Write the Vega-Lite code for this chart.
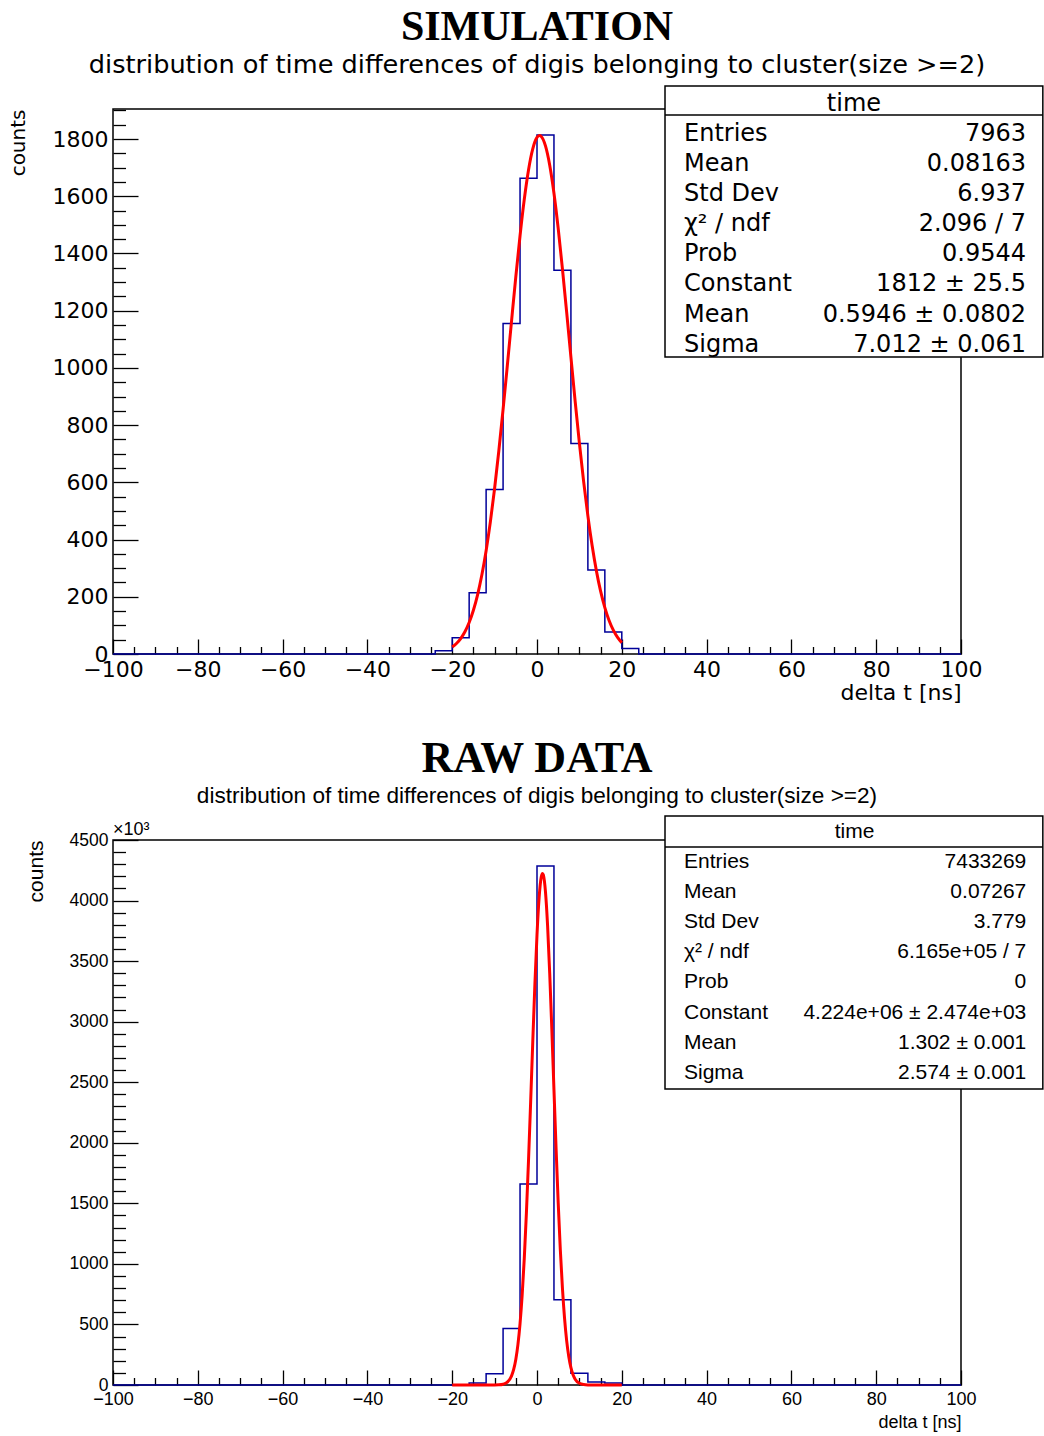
{
  "$schema": "https://vega.github.io/schema/vega-lite/v6.json",
  "background": "white",
  "padding": {"left": 7, "top": 4, "right": 0, "bottom": 0},
  "spacing": 31,
  "config": {
    "view": {"stroke": "black", "strokeWidth": 1.5},
    "axis": {"grid": false, "domain": false, "tickColor": "black", "tickWidth": 1.3, "labelColor": "black", "titleColor": "black", "labelFlush": false, "labelOverlap": false, "titleFontWeight": "normal"}
  },
  "vconcat": [
    {
      "width": 848,
      "height": 545,
      "title": {"text": "SIMULATION", "subtitle": "distribution of time differences of digis belonging to cluster(size >=2)", "font": "Liberation Serif", "fontSize": 42, "fontWeight": "bold", "color": "black", "subtitleFont": "DejaVu Sans", "subtitleFontSize": 25.6, "subtitleColor": "black", "anchor": "middle", "frame": "group", "offset": 6, "subtitlePadding": 4},
      "layer": [
        {
          "layer": [
            {
              "data": {"values": [
                {"lo": -100, "n": 0}, {"lo": -24, "n": 11}, {"lo": -20, "n": 57}, {"lo": -16, "n": 214}, {"lo": -12, "n": 575}, {"lo": -8, "n": 1155}, {"lo": -4, "n": 1663}, {"lo": 0, "n": 1814}, {"lo": 4, "n": 1341}, {"lo": 8, "n": 736}, {"lo": 12, "n": 294}, {"lo": 16, "n": 77}, {"lo": 20, "n": 19}, {"lo": 24, "n": 0}, {"lo": 100, "n": 0}
              ]},
              "mark": {"type": "line", "interpolate": "step-after", "color": "#000099", "strokeWidth": 1.5},
              "encoding": {
                "x": {"field": "lo", "type": "quantitative", "scale": {"domain": [-100, 100], "nice": false, "zero": false},
                      "axis": {"orient": "bottom", "values": [-100, -80, -60, -40, -20, 0, 20, 40, 60, 80, 100], "format": "d", "tickSize": -15, "labelPadding": 20, "labelFont": "DejaVu Sans", "labelFontSize": 22, "title": "delta t [ns]", "titleFont": "DejaVu Sans", "titleFontSize": 22, "titleAnchor": "end", "titlePadding": 2}},
                "y": {"field": "n", "type": "quantitative", "scale": {"domain": [0, 1905], "nice": false, "zero": false},
                      "axis": {"orient": "left", "values": [0, 200, 400, 600, 800, 1000, 1200, 1400, 1600, 1800], "format": "d", "tickSize": -25, "labelPadding": 30, "labelFont": "DejaVu Sans", "labelFontSize": 22, "title": "counts", "titleFont": "DejaVu Sans", "titleFontSize": 20, "titleAnchor": "end", "titlePadding": 24}}
              }
            },
            {
              "data": {"values": [
                {"x": -20, "f": 24.3}, {"x": -19, "f": 36.5}, {"x": -18, "f": 53.9}, {"x": -17, "f": 77.8}, {"x": -16, "f": 110.1}, {"x": -15, "f": 152.8}, {"x": -14, "f": 207.7}, {"x": -13, "f": 276.7}, {"x": -12, "f": 361.1}, {"x": -11, "f": 461.8}, {"x": -10, "f": 578.6}, {"x": -9, "f": 710.5}, {"x": -8, "f": 854.9}, {"x": -7, "f": 1007.8}, {"x": -6, "f": 1164.4}, {"x": -5, "f": 1318.1}, {"x": -4, "f": 1461.9}, {"x": -3, "f": 1588.9}, {"x": -2, "f": 1692.1}, {"x": -1, "f": 1765.7}, {"x": 0, "f": 1805.5}, {"x": 0.5946, "f": 1812}, {"x": 1, "f": 1809.0}, {"x": 2, "f": 1776.0}, {"x": 3, "f": 1708.5}, {"x": 4, "f": 1610.4}, {"x": 5, "f": 1487.5}, {"x": 6, "f": 1346.2}, {"x": 7, "f": 1193.8}, {"x": 8, "f": 1037.4}, {"x": 9, "f": 883.4}, {"x": 10, "f": 737.0}, {"x": 11, "f": 602.5}, {"x": 12, "f": 482.7}, {"x": 13, "f": 378.9}, {"x": 14, "f": 291.5}, {"x": 15, "f": 219.6}, {"x": 16, "f": 162.2}, {"x": 17, "f": 117.3}, {"x": 18, "f": 83.2}, {"x": 19, "f": 57.8}, {"x": 20, "f": 39.4}
              ]},
              "mark": {"type": "line", "color": "#ff0000", "strokeWidth": 3, "interpolate": "monotone"},
              "encoding": {
                "x": {"field": "x", "type": "quantitative", "axis": {"orient": "bottom", "values": [-95, -90, -85, -75, -70, -65, -55, -50, -45, -35, -30, -25, -15, -10, -5, 5, 10, 15, 25, 30, 35, 45, 50, 55, 65, 70, 75, 85, 90, 95], "tickSize": -7.5, "labels": false, "title": null}},
                "y": {"field": "f", "type": "quantitative", "axis": {"orient": "left", "values": [50, 100, 150, 250, 300, 350, 450, 500, 550, 650, 700, 750, 850, 900, 950, 1050, 1100, 1150, 1250, 1300, 1350, 1450, 1500, 1550, 1650, 1700, 1750, 1850, 1900], "tickSize": -12.5, "labels": false, "title": null}}
              }
            }
          ],
          "resolve": {"axis": {"x": "independent", "y": "independent"}}
        },
        {
          "data": {"values": [
            {"r": 0, "label": "time", "value": ""},
            {"r": 1, "label": "Entries", "value": "7963"},
            {"r": 2, "label": "Mean", "value": "0.08163"},
            {"r": 3, "label": "Std Dev", "value": "6.937"},
            {"r": 4, "label": "χ² / ndf", "value": "2.096 / 7"},
            {"r": 5, "label": "Prob", "value": "0.9544"},
            {"r": 6, "label": "Constant", "value": "1812 ± 25.5"},
            {"r": 7, "label": "Mean", "value": "0.5946 ± 0.0802"},
            {"r": 8, "label": "Sigma", "value": "7.012 ± 0.061"}
          ]},
          "layer": [
            {
              "data": {"values": [{}]},
              "mark": {"type": "rect", "fill": "white", "stroke": "black", "strokeWidth": 1.5},
              "encoding": {
                "x": {"datum": 30.19, "type": "quantitative", "scale": {"domain": [-100, 100], "nice": false, "zero": false}, "axis": null},
                "x2": {"datum": 119.3},
                "y": {"datum": -0.594, "type": "quantitative", "scale": {"domain": [0.17, 18.276], "reverse": true, "nice": false, "zero": false}, "axis": null},
                "y2": {"datum": 8.409}
              }
            },
            {
              "data": {"values": [{}]},
              "mark": {"type": "rule", "color": "black", "strokeWidth": 1.5},
              "encoding": {
                "x": {"datum": 30.19, "type": "quantitative"},
                "x2": {"datum": 119.3},
                "y": {"datum": 0.369, "type": "quantitative"}
              }
            },
            {
              "transform": [{"filter": "datum.r == 0"}],
              "mark": {"type": "text", "align": "center", "baseline": "middle", "font": "DejaVu Sans", "fontSize": 24, "color": "black"},
              "encoding": {"x": {"datum": 74.76, "type": "quantitative"}, "y": {"field": "r", "type": "quantitative"}, "text": {"field": "label"}}
            },
            {
              "transform": [{"filter": "datum.r > 0"}],
              "mark": {"type": "text", "align": "left", "baseline": "middle", "font": "DejaVu Sans", "fontSize": 24, "color": "black"},
              "encoding": {"x": {"datum": 34.67, "type": "quantitative"}, "y": {"field": "r", "type": "quantitative"}, "text": {"field": "label"}}
            },
            {
              "transform": [{"filter": "datum.r > 0"}],
              "mark": {"type": "text", "align": "right", "baseline": "middle", "font": "DejaVu Sans", "fontSize": 24, "color": "black"},
              "encoding": {"x": {"datum": 115.33, "type": "quantitative"}, "y": {"field": "r", "type": "quantitative"}, "text": {"field": "value"}}
            }
          ]
        }
      ],
      "resolve": {"scale": {"x": "independent", "y": "independent"}}
    },
    {
      "width": 848,
      "height": 545,
      "title": {"text": "RAW DATA", "subtitle": "distribution of time differences of digis belonging to cluster(size >=2)", "font": "Liberation Serif", "fontSize": 44, "fontWeight": "bold", "color": "black", "subtitleFont": "Liberation Sans", "subtitleFontSize": 22.6, "subtitleColor": "black", "anchor": "middle", "frame": "group", "offset": 8, "subtitlePadding": 4},
      "layer": [
        {
          "layer": [
            {
              "data": {"values": [
                {"lo": -100, "n": 0}, {"lo": -20, "n": 3}, {"lo": -16, "n": 16}, {"lo": -12, "n": 92}, {"lo": -8, "n": 466}, {"lo": -4, "n": 1659}, {"lo": 0, "n": 4286}, {"lo": 4, "n": 703}, {"lo": 8, "n": 96}, {"lo": 12, "n": 24}, {"lo": 16, "n": 16}, {"lo": 20, "n": 0}, {"lo": 100, "n": 0}
              ]},
              "mark": {"type": "line", "interpolate": "step-after", "color": "#000099", "strokeWidth": 1.5},
              "encoding": {
                "x": {"field": "lo", "type": "quantitative", "scale": {"domain": [-100, 100], "nice": false, "zero": false},
                      "axis": {"orient": "bottom", "values": [-100, -80, -60, -40, -20, 0, 20, 40, 60, 80, 100], "format": "d", "tickSize": -15, "labelPadding": 20, "labelFont": "Liberation Sans", "labelFontSize": 18, "title": "delta t [ns]", "titleFont": "Liberation Sans", "titleFontSize": 18, "titleAnchor": "end", "titlePadding": 5}},
                "y": {"field": "n", "type": "quantitative", "scale": {"domain": [0, 4500], "nice": false, "zero": false},
                      "axis": {"orient": "left", "values": [0, 500, 1000, 1500, 2000, 2500, 3000, 3500, 4000, 4500], "format": "d", "tickSize": -25, "labelPadding": 30, "labelFont": "Liberation Sans", "labelFontSize": 17.5, "title": "counts", "titleFont": "Liberation Sans", "titleFontSize": 21, "titleAnchor": "end", "titlePadding": 23}}
              }
            },
            {
              "data": {"values": [
                {"x": -20, "f": 0}, {"x": -16, "f": 0}, {"x": -12, "f": 0.01}, {"x": -10, "f": 0.27}, {"x": -9, "f": 1.4}, {"x": -8, "f": 6.2}, {"x": -7, "f": 23.3}, {"x": -6, "f": 75.5}, {"x": -5.5, "f": 128.6}, {"x": -5, "f": 210.9}, {"x": -4.5, "f": 333.0}, {"x": -4, "f": 506.3}, {"x": -3.5, "f": 741.2}, {"x": -3, "f": 1045.1}, {"x": -2.5, "f": 1418.9}, {"x": -2, "f": 1855.2}, {"x": -1.5, "f": 2335.7}, {"x": -1, "f": 2831.8}, {"x": -0.5, "f": 3305.8}, {"x": 0, "f": 3716.8}, {"x": 0.5, "f": 4023.9}, {"x": 1, "f": 4195.0}, {"x": 1.302, "f": 4224}, {"x": 1.5, "f": 4211.5}, {"x": 2, "f": 4071.5}, {"x": 2.5, "f": 3790.4}, {"x": 3, "f": 3398.0}, {"x": 3.5, "f": 2933.4}, {"x": 4, "f": 2438.8}, {"x": 4.5, "f": 1952.3}, {"x": 5, "f": 1505.1}, {"x": 5.5, "f": 1117.2}, {"x": 6, "f": 798.6}, {"x": 6.5, "f": 549.7}, {"x": 7, "f": 364.4}, {"x": 7.5, "f": 232.6}, {"x": 8, "f": 143.0}, {"x": 8.5, "f": 84.7}, {"x": 9, "f": 48.2}, {"x": 10, "f": 14.0}, {"x": 11, "f": 3.5}, {"x": 12, "f": 0.75}, {"x": 13, "f": 0.14}, {"x": 14, "f": 0.02}, {"x": 20, "f": 0}
              ]},
              "mark": {"type": "line", "color": "#ff0000", "strokeWidth": 3, "interpolate": "monotone"},
              "encoding": {
                "x": {"field": "x", "type": "quantitative", "axis": {"orient": "bottom", "values": [-95, -90, -85, -75, -70, -65, -55, -50, -45, -35, -30, -25, -15, -10, -5, 5, 10, 15, 25, 30, 35, 45, 50, 55, 65, 70, 75, 85, 90, 95], "tickSize": -7.5, "labels": false, "title": null}},
                "y": {"field": "f", "type": "quantitative", "axis": {"orient": "left", "values": [100, 200, 300, 400, 600, 700, 800, 900, 1100, 1200, 1300, 1400, 1600, 1700, 1800, 1900, 2100, 2200, 2300, 2400, 2600, 2700, 2800, 2900, 3100, 3200, 3300, 3400, 3600, 3700, 3800, 3900, 4100, 4200, 4300, 4400], "tickSize": -12.5, "labels": false, "title": null}}
              }
            },
            {
              "data": {"values": [{}]},
              "mark": {"type": "text", "text": "×10³", "align": "left", "baseline": "bottom", "font": "Liberation Sans", "fontSize": 18, "color": "black", "dy": -1},
              "encoding": {
                "x": {"datum": -100, "type": "quantitative", "axis": null},
                "y": {"datum": 4500, "type": "quantitative", "axis": null}
              }
            }
          ],
          "resolve": {"axis": {"x": "independent", "y": "independent"}}
        },
        {
          "data": {"values": [
            {"r": 0, "label": "time", "value": ""},
            {"r": 1, "label": "Entries", "value": "7433269"},
            {"r": 2, "label": "Mean", "value": "0.07267"},
            {"r": 3, "label": "Std Dev", "value": "3.779"},
            {"r": 4, "label": "χ² / ndf", "value": "6.165e+05 / 7"},
            {"r": 5, "label": "Prob", "value": "0"},
            {"r": 6, "label": "Constant", "value": "4.224e+06 ± 2.474e+03"},
            {"r": 7, "label": "Mean", "value": "1.302 ± 0.001"},
            {"r": 8, "label": "Sigma", "value": "2.574 ± 0.001"}
          ]},
          "layer": [
            {
              "data": {"values": [{}]},
              "mark": {"type": "rect", "fill": "white", "stroke": "black", "strokeWidth": 1.5},
              "encoding": {
                "x": {"datum": 30.19, "type": "quantitative", "scale": {"domain": [-100, 100], "nice": false, "zero": false}, "axis": null},
                "x2": {"datum": 119.3},
                "y": {"datum": -0.53, "type": "quantitative", "scale": {"domain": [0.269, 18.375], "reverse": true, "nice": false, "zero": false}, "axis": null},
                "y2": {"datum": 8.54}
              }
            },
            {
              "data": {"values": [{}]},
              "mark": {"type": "rule", "color": "black", "strokeWidth": 1.5},
              "encoding": {
                "x": {"datum": 30.19, "type": "quantitative"},
                "x2": {"datum": 119.3},
                "y": {"datum": 0.502, "type": "quantitative"}
              }
            },
            {
              "transform": [{"filter": "datum.r == 0"}],
              "mark": {"type": "text", "align": "center", "baseline": "middle", "font": "Liberation Sans", "fontSize": 21, "color": "black"},
              "encoding": {"x": {"datum": 74.88, "type": "quantitative"}, "y": {"field": "r", "type": "quantitative"}, "text": {"field": "label"}}
            },
            {
              "transform": [{"filter": "datum.r > 0"}],
              "mark": {"type": "text", "align": "left", "baseline": "middle", "font": "Liberation Sans", "fontSize": 21, "color": "black"},
              "encoding": {"x": {"datum": 34.67, "type": "quantitative"}, "y": {"field": "r", "type": "quantitative"}, "text": {"field": "label"}}
            },
            {
              "transform": [{"filter": "datum.r > 0"}],
              "mark": {"type": "text", "align": "right", "baseline": "middle", "font": "Liberation Sans", "fontSize": 21, "color": "black"},
              "encoding": {"x": {"datum": 115.4, "type": "quantitative"}, "y": {"field": "r", "type": "quantitative"}, "text": {"field": "value"}}
            }
          ]
        }
      ],
      "resolve": {"scale": {"x": "independent", "y": "independent"}}
    }
  ]
}
